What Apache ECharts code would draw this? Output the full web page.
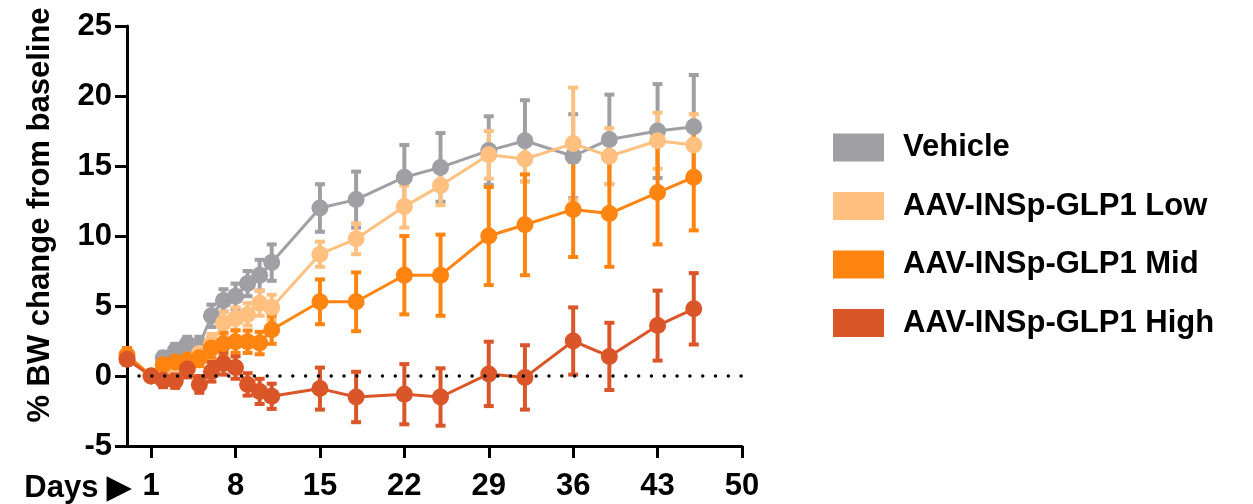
<!DOCTYPE html>
<html>
<head>
<meta charset="utf-8">
<script src="https://cdn.jsdelivr.net/npm/echarts@6/dist/echarts.min.js"></script>
<style>html,body{margin:0;padding:0;background:#fff;}#chart{width:1253px;height:504px;}</style>
</head>
<body>
<div id="chart"></div>
<script>
const days = [-1, 1, 2, 3, 4, 5, 6, 7, 8, 9, 10, 11, 15, 18, 22, 25, 29, 32, 36, 39, 43, 46];

const vehicleMean = [1.3, 0, 1.3, 1.8, 2.3, 2.2, 4.3, 5.4, 5.7, 6.6, 7.2, 8.1, 12.0, 12.6, 14.2, 14.9, 16.1, 16.8, 15.7, 16.9, 17.5, 17.8];
const vehicleErr  = [0.3, 0, 0.4, 0.5, 0.5, 0.6, 0.8, 0.8, 0.9, 0.9, 1.1, 1.3, 1.7, 2.0, 2.3, 2.45, 2.45, 2.9, 3.0, 3.2, 3.35, 3.7];

const lowMean = [1.3, 0, 0.5, 0.8, 1.0, 1.6, 2.3, 3.8, 4.1, 4.4, 5.2, 4.9, 8.7, 9.8, 12.1, 13.6, 15.8, 15.5, 16.6, 15.7, 16.8, 16.5];
const lowErr  = [0.4, 0, 0.5, 0.5, 0.5, 0.6, 0.7, 0.8, 0.8, 0.8, 0.9, 0.9, 0.9, 1.1, 1.5, 1.4, 1.7, 1.6, 4.0, 2.0, 2.0, 2.2];

const midMean = [1.5, 0, 0.8, 1.0, 1.1, 1.3, 2.0, 2.3, 2.45, 2.45, 2.35, 3.3, 5.3, 5.3, 7.2, 7.2, 10.0, 10.8, 11.9, 11.6, 13.1, 14.2];
const midErr  = [0.5, 0, 0.6, 0.6, 0.6, 0.6, 0.7, 0.8, 0.8, 0.8, 0.8, 1.0, 1.6, 2.1, 2.8, 2.9, 3.5, 3.6, 3.4, 3.8, 3.7, 3.8];

const highMean = [1.2, 0, -0.3, -0.35, 0.5, -0.6, 0.3, 0.9, 0.6, -0.6, -1.1, -1.45, -0.9, -1.5, -1.3, -1.5, 0.15, -0.1, 2.5, 1.4, 3.6, 4.8];
const highErr  = [0.4, 0, 0.5, 0.5, 0.6, 0.6, 0.7, 0.8, 0.8, 0.8, 0.9, 0.9, 1.5, 1.8, 2.15, 2.05, 2.3, 2.3, 2.4, 2.4, 2.5, 2.55];

const xTicks = [1, 8, 15, 22, 29, 36, 43, 50];
const yTicks = [-5, 0, 5, 10, 15, 20, 25];

const names = ['Vehicle', 'AAV-INSp-GLP1 Low', 'AAV-INSp-GLP1 Mid', 'AAV-INSp-GLP1 High'];
const colors = ['#A09FA4', '#FFC080', '#FF8410', '#DA5628'];
const means = [vehicleMean, lowMean, midMean, highMean];
const errs = [vehicleErr, lowErr, midErr, highErr];

const FONT = '"Liberation Sans", Arial, Helvetica, sans-serif';

function errRender(params, api) {
  const x = api.value(0), lo = api.value(1), hi = api.value(2);
  if (hi - lo < 1e-9) return null;
  const p1 = api.coord([x, hi]);
  const p2 = api.coord([x, lo]);
  const color = api.visual('color');
  return {
    type: 'group',
    children: [
      {type: 'rect', shape: {x: p1[0] - 2, y: p1[1], width: 4, height: p2[1] - p1[1]}, style: {fill: color}},
      {type: 'rect', shape: {x: p1[0] - 5, y: p1[1] - 2, width: 10, height: 4}, style: {fill: color}},
      {type: 'rect', shape: {x: p1[0] - 5, y: p2[1] - 2, width: 10, height: 4}, style: {fill: color}}
    ]
  };
}

const series = [{
  type: 'line',
  name: '__zero',
  data: [],
  silent: true,
  markLine: {
    silent: true,
    symbol: ['none', 'none'],
    label: {show: false},
    lineStyle: {color: '#000', width: 3.5, type: [0.01, 12.8], cap: 'round'},
    data: [[{coord: [0, 0]}, {coord: [50, 0]}]]
  }
}];

for (let s = 0; s < 4; s++) {
  series.push({
    type: 'custom',
    name: names[s] + ' err',
    renderItem: errRender,
    itemStyle: {color: colors[s]},
    encode: {x: 0, y: [1, 2]},
    data: days.map((d, i) => [d, means[s][i] - errs[s][i], means[s][i] + errs[s][i]]),
    silent: true
  });
  series.push({
    type: 'line',
    name: names[s],
    data: days.map((d, i) => [d, means[s][i]]),
    symbol: 'circle',
    symbolSize: 17,
    showAllSymbol: true,
    itemStyle: {color: colors[s]},
    lineStyle: {color: colors[s], width: 3},
    silent: true
  });
}

const chart = echarts.init(document.getElementById('chart'));
chart.setOption({
  animation: false,
  backgroundColor: '#fff',
  grid: {left: 127, right: 511, top: 26, bottom: 58, containLabel: false},
  legend: {
    data: names,
    orient: 'vertical',
    left: 828,
    top: 127,
    icon: 'rect',
    itemWidth: 51,
    itemHeight: 28,
    itemGap: 27.5,
    selectedMode: false,
    textStyle: {fontFamily: FONT, fontWeight: 'bold', fontSize: 31, color: '#000', padding: [0, 0, 0, 14]}
  },
  xAxis: {
    type: 'value',
    min: -1,
    max: 50,
    axisLine: {show: true, onZero: false, lineStyle: {color: '#000', width: 3}},
    axisTick: {show: true, customValues: xTicks, length: 12, lineStyle: {color: '#000', width: 3}},
    axisLabel: {customValues: xTicks, margin: 25, fontFamily: FONT, fontWeight: 'bold', fontSize: 31, color: '#000'},
    splitLine: {show: false}
  },
  yAxis: {
    type: 'value',
    min: -5,
    max: 25,
    interval: 5,
    axisLine: {show: true, onZero: false, lineStyle: {color: '#000', width: 3}},
    axisTick: {show: true, length: 12, lineStyle: {color: '#000', width: 3}},
    axisLabel: {margin: 15, fontFamily: FONT, fontWeight: 'bold', fontSize: 31, color: '#000'},
    splitLine: {show: false}
  },
  graphic: [
    {
      type: 'text',
      x: 131,
      y: 488,
      style: {text: 'Days ▶', fontFamily: FONT, fontWeight: 'bold', fontSize: 31, fill: '#000', align: 'right', verticalAlign: 'middle'}
    },
    {
      type: 'text',
      x: 40,
      y: 215,
      rotation: Math.PI / 2,
      style: {text: '% BW change from baseline', fontFamily: FONT, fontWeight: 'bold', fontSize: 31, fill: '#000', align: 'center', verticalAlign: 'middle'}
    }
  ],
  series: series
});
</script>
</body>
</html>
